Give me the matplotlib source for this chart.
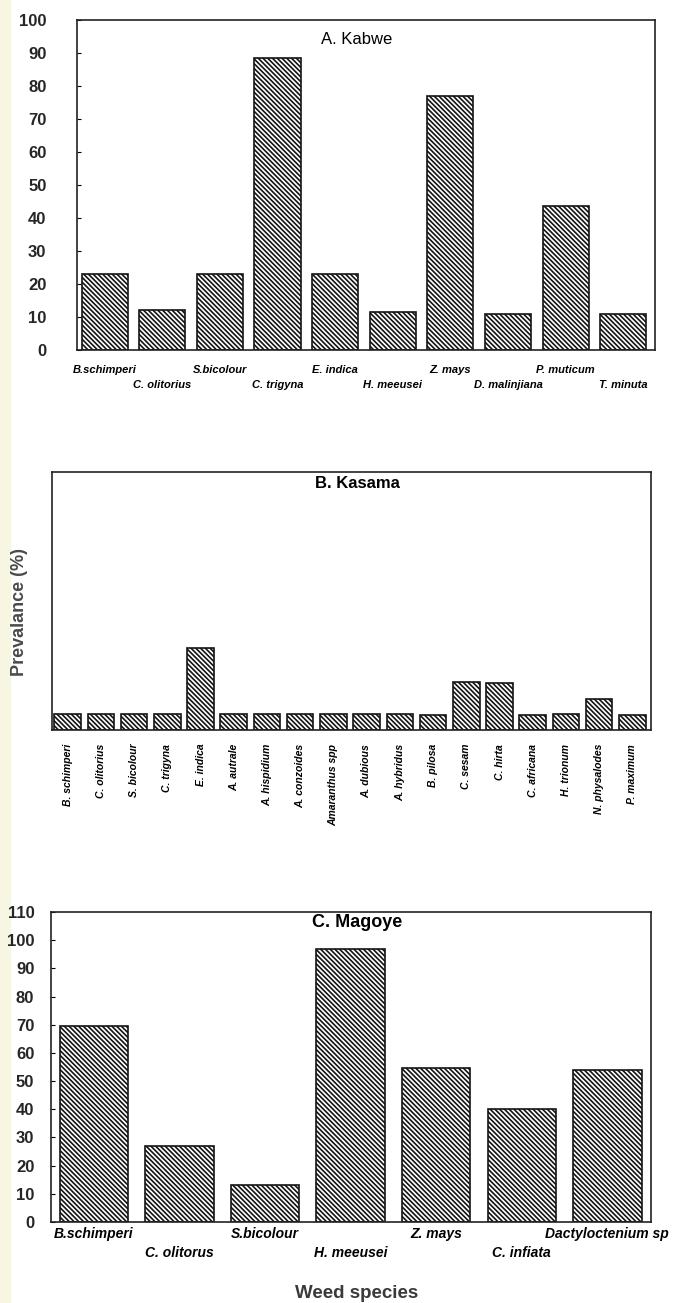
import matplotlib.pyplot as plt
from matplotlib.patches import Rectangle

# prevalence (%) of weed species hosting the pathogen at each site
kabwe_species = ['B.schimperi', 'C. olitorius', 'S.bicolour', 'C. trigyna', 'E. indica',
                 'H. meeusei', 'Z. mays', 'D. malinjiana', 'P. muticum', 'T. minuta']
kabwe_prev = [23, 12, 23, 88.5, 23, 11.5, 77, 11, 43.5, 11]

kasama_species = ['B. schimperi', 'C. olitorius', 'S. bicolour', 'C. trigyna', 'E. indica',
                  'A. autrale', 'A. hispidium', 'A. conzoides', 'Amaranthus spp', 'A. dubious',
                  'A. hybridus', 'B. pilosa', 'C. sesam', 'C. hirta', 'C. africana',
                  'H. trionum', 'N. physalodes', 'P. maximum']
kasama_prev = [6.3, 6.2, 6.2, 6.2, 31.9, 6.1, 6.1, 6.2, 6.2, 6.2,
               6.1, 5.9, 18.5, 18.3, 5.8, 6.0, 12.1, 5.8]

magoye_species = ['B.schimperi', 'C. olitorus', 'S.bicolour', 'H. meeusei', 'Z. mays',
                  'C. infiata', 'Dactyloctenium sp']
magoye_prev = [69.5, 27, 13, 97, 54.5, 40, 54]

plt.rcParams['font.family'] = ['Liberation Sans', 'DejaVu Sans']
plt.rcParams['hatch.linewidth'] = 1.2
narrow = ['Liberation Sans Narrow', 'Liberation Sans', 'DejaVu Sans']
tick_col = '#262626'

fig = plt.figure(figsize=(6.73, 13.03), dpi=100)
fig.patches.append(Rectangle((0, 0), 10 / 673, 1, transform=fig.transFigure,
                             color='#f6f6e2', zorder=-1))


def hatched_bars(ax, values):
    ax.bar(range(len(values)), values, width=0.8, color='white', edgecolor='#141414',
           linewidth=1.2, hatch='\\' * 7)
    for s in ax.spines.values():
        s.set_linewidth(1.2)
        s.set_color('#222222')


def two_row_labels(ax, names, size, row1, row2):
    # species names staggered on two rows under the bars
    ax.set_xticks(range(len(names)))
    ax.set_xticklabels([])
    ax.tick_params(axis='x', length=0)
    for i, n in enumerate(names):
        dy = row1 if i % 2 == 0 else row2
        ax.annotate(n, (i, 0), xycoords=('data', 'axes fraction'), xytext=(0, -dy),
                    textcoords='offset points', ha='center', va='center',
                    fontsize=size, fontstyle='italic', fontweight='bold', family=narrow,
                    annotation_clip=False)


# A. Kabwe
ax1 = fig.add_axes([0.1144, 0.7314, 0.8588, 0.2533])
hatched_bars(ax1, kabwe_prev)
ax1.set_xlim(-0.48, 9.55)
ax1.set_ylim(0, 100)
ax1.set_yticks(range(0, 101, 10))
ax1.tick_params(axis='y', direction='in', length=3, pad=22, labelsize=12,
                labelcolor=tick_col)
for t in ax1.get_yticklabels():
    t.set_fontweight('bold')
two_row_labels(ax1, kabwe_species, 8, 14.5, 25.5)
ax1.text(0.484, 0.94, 'A. Kabwe', transform=ax1.transAxes, ha='center', va='center',
         fontsize=12)

# B. Kasama
ax2 = fig.add_axes([0.0773, 0.4398, 0.8900, 0.198])
hatched_bars(ax2, kasama_prev)
ax2.set_xlim(-0.47, 17.56)
ax2.set_ylim(0, 100)
ax2.set_yticks([])
ax2.set_xticks(range(len(kasama_species)))
ax2.set_xticklabels(kasama_species, rotation=90, fontsize=7.5, fontstyle='italic',
                    fontweight='bold', family=narrow)
ax2.tick_params(axis='x', length=0, pad=10)
ax2.text(0.51, 0.955, 'B. Kasama', transform=ax2.transAxes, ha='center', va='center',
         fontsize=12, fontweight='bold')

# C. Magoye
ax3 = fig.add_axes([0.0758, 0.0622, 0.8915, 0.2379])
hatched_bars(ax3, magoye_prev)
ax3.set_xlim(-0.5, 6.51)
ax3.set_ylim(0, 110)
ax3.set_yticks(range(0, 111, 10))
ax3.tick_params(axis='y', direction='in', length=3, pad=12, labelsize=12,
                labelcolor=tick_col)
for t in ax3.get_yticklabels():
    t.set_fontweight('bold')
two_row_labels(ax3, magoye_species, 10, 8.5, 22)
ax3.text(0.51, 0.965, 'C. Magoye', transform=ax3.transAxes, ha='center', va='center',
         fontsize=13, fontweight='bold')

fig.text(20 / 673, 1 - 612 / 1303, 'Prevalance (%)', rotation=90, ha='center', va='center',
         fontsize=13, fontweight='bold', color='#4a4a4a')
fig.text(357 / 673, 1 - 1294 / 1303, 'Weed species', ha='center', va='center',
         fontsize=13.5, fontweight='bold', color='#3a3a3a')

fig.savefig('out.png', dpi=100)
